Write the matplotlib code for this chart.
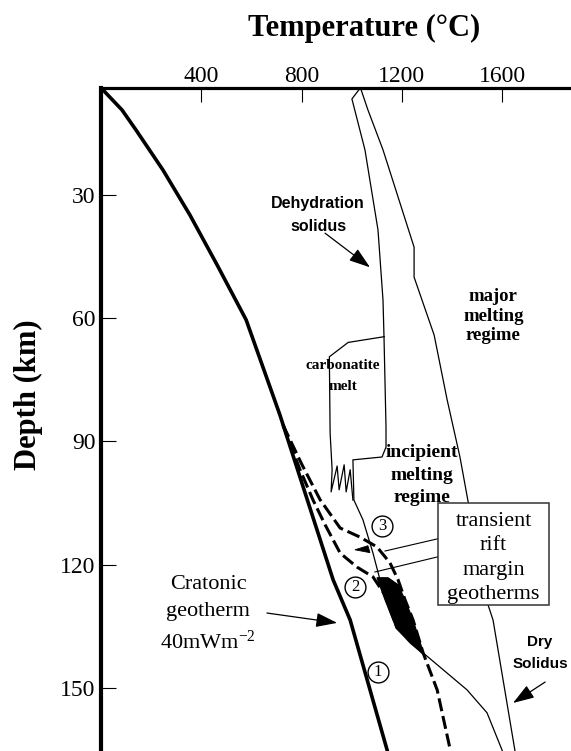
import matplotlib
matplotlib.use("Agg")
import matplotlib.pyplot as plt
from matplotlib.patches import Polygon, Rectangle

SERIF = "Liberation Serif"
SANS = "Liberation Sans"

# --- traced curves: temperature (deg C) vs depth (km) ---
craton_T = [0, 84, 140, 247, 355, 463, 579, 714, 926, 994, 1150]
craton_D = [3.9, 9.3, 14.2, 23.9, 34.9, 47.0, 60.4, 83.6, 123.7, 133.5, 167.0]

# transient geotherm 3 (outer) and 2 (inner), branch off the cratonic one
geo3_T = [726, 802, 874, 954, 1033, 1101, 1153, 1185, 1213, 1245, 1285, 1341, 1400]
geo3_D = [86.0, 95.7, 104.2, 111.1, 113.3, 115.7, 119.6, 123.7, 128.6, 133.5, 141.5, 150.5, 167.0]
geo2_T = [726, 794, 846, 894, 954, 1021, 1085, 1133, 1181, 1285]
geo2_D = [86.0, 96.9, 104.3, 110.3, 117.2, 120.6, 123.0, 127.4, 135.4, 141.5]

dehyd_T = [1035, 1001, 1053, 1105, 1125, 1129, 1137, 1137, 1121, 1005, 1009, 1045,
           1085, 1113, 1285, 1460, 1540, 1612]
dehyd_D = [3.9, 6.6, 19.0, 38.5, 55.6, 64.6, 86.5, 91.4, 93.8, 94.5, 104.3, 109.1,
           117.2, 123.7, 141.5, 150.5, 156.1, 167.0]

dry_T = [1035, 1065, 1125, 1249, 1249, 1329, 1381, 1432, 1464, 1544, 1564, 1656]
dry_D = [3.9, 9.3, 19.0, 42.7, 50.0, 64.1, 79.9, 93.8, 104.5, 129.8, 133.5, 167.0]

carb_T = [1130, 986, 911, 914, 922, 918, 942, 950, 970, 978, 994, 1005]
carb_D = [64.5, 65.9, 69.4, 87.9, 96.9, 102.3, 96.0, 101.8, 95.7, 102.3, 96.9, 104.3]

# melting zones (filled black)
melt_T = [1101, 1145, 1185, 1213, 1245, 1289, 1233, 1177, 1133]
melt_D = [123.2, 123.2, 124.9, 128.6, 133.5, 142.0, 139.1, 135.4, 128.6]
wedge_T = [1013, 1065, 1073]
wedge_D = [116.4, 115.4, 117.1]

circle_labels = ["1", "2", "3"]
circle_T = [1105, 1013, 1121]
circle_D = [146.1, 125.4, 110.6]

box_T = [1345, 1788]
box_D = [105.0, 129.8]
leader_T = [[1345, 1133], [1345, 1093]]
leader_D = [[113.7, 116.7], [118.1, 121.8]]

xticks = [400, 800, 1200, 1600]
yticks = [30, 60, 90, 120, 150]

plt.rcParams["font.family"] = SERIF
plt.rcParams["mathtext.fontset"] = "custom"
plt.rcParams["mathtext.rm"] = SERIF
plt.rcParams["mathtext.it"] = SERIF + ":italic"
plt.rcParams["mathtext.bf"] = SERIF + ":bold"

fig = plt.figure(figsize=(5.71, 7.51), dpi=100)
ax = fig.add_axes([101 / 571, 0, 470 / 571, 663 / 751])
ax.set_xlim(0, 1875)
ax.set_ylim(165.4, 3.94)

for s in ("bottom", "right"):
    ax.spines[s].set_visible(False)
ax.spines["top"].set_linewidth(2.3)
ax.spines["left"].set_linewidth(3.0)

ax.xaxis.tick_top()
ax.set_xticks(xticks)
ax.set_yticks(yticks)
ax.tick_params(axis="x", direction="in", length=10, width=0.8, pad=1, labelsize=17)
ax.tick_params(axis="y", direction="in", length=11, width=0.8, pad=4, labelsize=17)

# curves
ax.plot(dehyd_T, dehyd_D, color="k", lw=0.9)
ax.plot(dry_T, dry_D, color="k", lw=0.9)
ax.plot(carb_T, carb_D, color="k", lw=0.9)
ax.add_patch(Polygon(list(zip(melt_T, melt_D)), closed=True, fc="k", ec="k", lw=0.8))
ax.add_patch(Polygon(list(zip(wedge_T, wedge_D)), closed=True, fc="k", ec="k", lw=0.6))
ax.plot(craton_T, craton_D, color="k", lw=2.6, solid_capstyle="butt")
ax.plot(geo3_T, geo3_D, color="k", lw=2.2, dashes=(4.3, 1.6))
ax.plot(geo2_T, geo2_D, color="k", lw=2.2, dashes=(4.3, 1.6))

for lt, ld in zip(leader_T, leader_D):
    ax.plot(lt, ld, color="k", lw=0.8)

ax.add_patch(Rectangle((box_T[0], box_D[0]), box_T[1] - box_T[0], box_D[1] - box_D[0],
                       fc="white", ec="#333333", lw=1.1, zorder=5))
ax.text((box_T[0] + box_T[1]) / 2, (box_D[0] + box_D[1]) / 2 + 1.0,
        "transient\nrift\nmargin\ngeotherms", ha="center", va="center",
        fontsize=16, linespacing=1.38, zorder=6)

ax.plot(circle_T, circle_D, "o", ms=15, mfc="white", mec="k", mew=1.0, zorder=6)
for lab, t, d in zip(circle_labels, circle_T, circle_D):
    ax.text(t, d, lab, ha="center", va="center", fontsize=12, zorder=7)

# labels
ax.text(866, 34.9, "Dehydration\nsolidus", family=SANS, fontweight="bold",
        fontsize=11.5, ha="center", va="center", linespacing=1.7)
ax.text(966, 74.0, "carbonatite\nmelt", fontweight="bold", fontsize=11,
        ha="center", va="center", linespacing=1.8)
ax.text(1280, 98.2, "incipient\nmelting\nregime", fontweight="bold", fontsize=14,
        ha="center", va="center", linespacing=1.45)
ax.text(1565, 59.5, "major\nmelting\nregime", fontweight="bold", fontsize=13.5,
        ha="center", va="center", linespacing=1.2)
ax.text(427, 132.2, "Cratonic\ngeotherm\n40mWm$^{\\mathrm{-2}}$", fontsize=16,
        ha="center", va="center", linespacing=1.55)
ax.text(1752, 141.5, "Dry\nSolidus", family=SANS, fontweight="bold", fontsize=11,
        ha="center", va="center", linespacing=1.75)

arrow = dict(arrowstyle="-|>,head_length=0.65,head_width=0.22", mutation_scale=20,
             lw=0.9, color="k", shrinkA=0, shrinkB=0)
ax.annotate("", xy=(1073, 47.6), xytext=(894, 39.3), arrowprops=arrow)
ax.annotate("", xy=(942, 134.2), xytext=(662, 131.8), arrowprops=arrow)
ax.annotate("", xy=(1644, 153.7), xytext=(1772, 148.6), arrowprops=arrow)

fig.text(364 / 571, 1 - 36 / 751, "Temperature (°C)", ha="center", va="baseline",
         fontsize=22, fontweight="bold")
fig.text(28 / 571, 1 - 395 / 751, "Depth (km)", rotation=90, ha="center",
         va="center", fontsize=22, fontweight="bold")

fig.savefig("out.png", dpi=100)
